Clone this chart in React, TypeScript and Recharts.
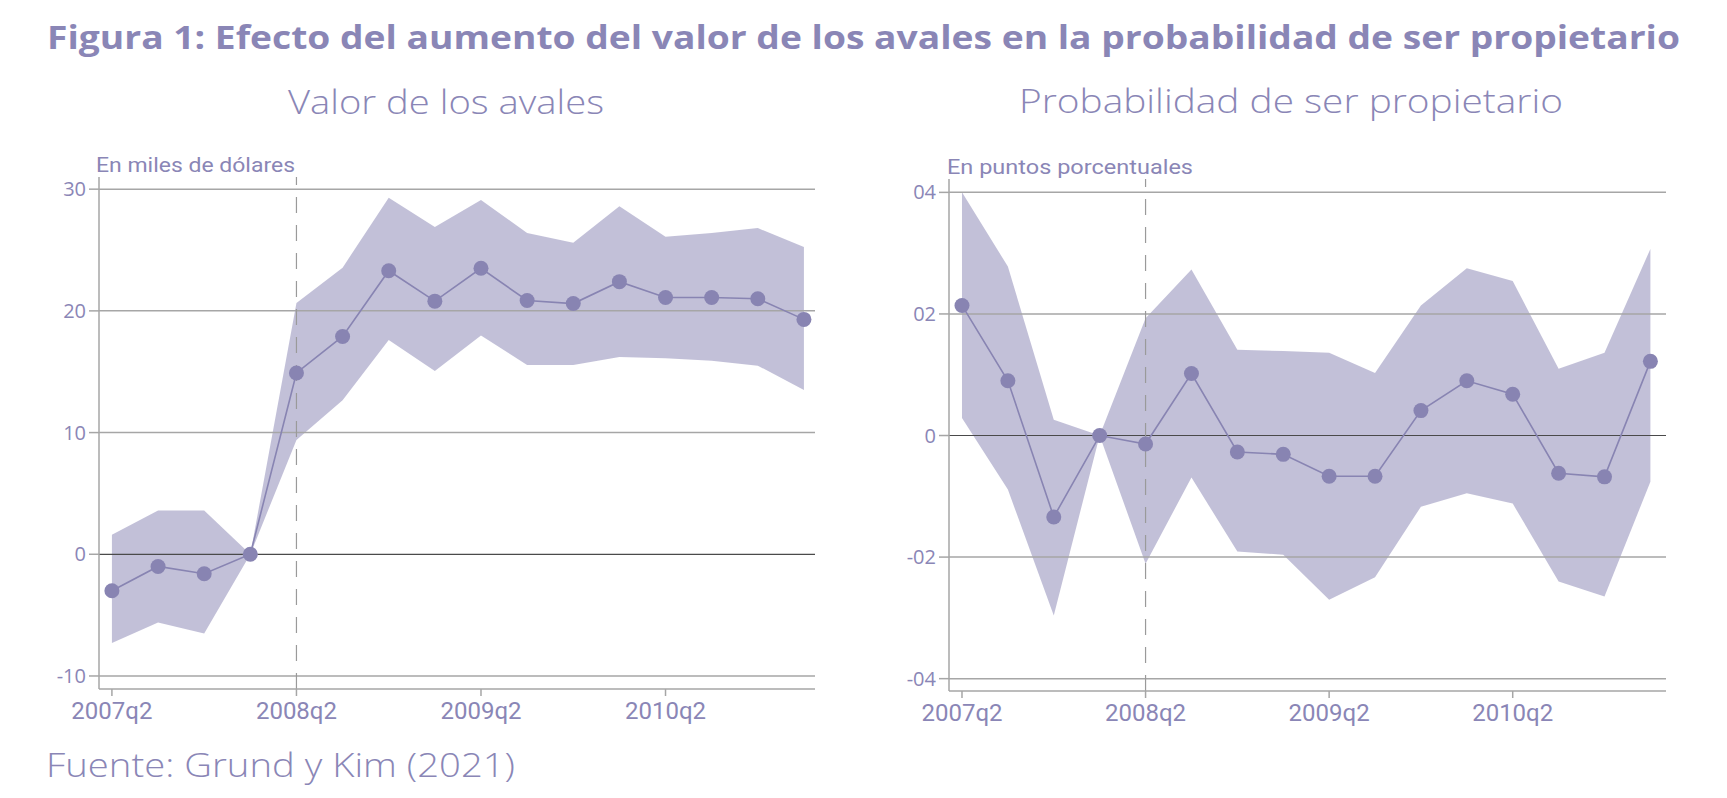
import React from "react";
import {
  ComposedChart,
  Area,
  Line,
  XAxis,
  YAxis,
  ReferenceLine
} from "recharts";

// trimestres, de 2007q2 a 2011q1
const quarters = [
  "2007q2", "2007q3", "2007q4", "2008q1",
  "2008q2", "2008q3", "2008q4", "2009q1",
  "2009q2", "2009q3", "2009q4", "2010q1",
  "2010q2", "2010q3", "2010q4", "2011q1"
];
const labelledQuarters = [0, 4, 8, 12];

// Valor de los avales (miles de dólares)
const avalesPunto = [-3.0, -1.0, -1.6, 0, 14.9, 17.9, 23.3, 20.8, 23.5, 20.85, 20.6, 22.4, 21.1, 21.1, 21.0, 19.3];
const avalesSup = [1.6, 3.6, 3.6, 0, 20.65, 23.55, 29.3, 26.9, 29.1, 26.4, 25.6, 28.6, 26.1, 26.4, 26.8, 25.25];
const avalesInf = [-7.3, -5.6, -6.5, 0, 9.4, 12.65, 17.6, 15.06, 17.97, 15.55, 15.55, 16.2, 16.1, 15.9, 15.5, 13.5];
const avalesTicks = [-10, 0, 10, 20, 30];

// Probabilidad de ser propietario (puntos porcentuales)
const probPunto = [0.0214, 0.009, -0.0134, 0, -0.0014, 0.0102, -0.0027, -0.0031, -0.0067, -0.0067, 0.0041, 0.009, 0.0068, -0.0062, -0.0068, 0.0122];
const probSup = [0.04, 0.0278, 0.0026, 0, 0.0193, 0.0273, 0.0141, 0.0139, 0.0136, 0.0103, 0.0214, 0.0275, 0.0254, 0.011, 0.0136, 0.0307];
const probInf = [0.0029, -0.0089, -0.0296, 0, -0.0211, -0.0069, -0.0191, -0.0196, -0.027, -0.0233, -0.0117, -0.0095, -0.0112, -0.024, -0.0265, -0.0076];
const probTicks = [-0.04, -0.02, 0, 0.02, 0.04];

const LINE = "#8884b2";
const BAND = "#8b87b5";
const TEXT = "#8a86b6";
const GRID = "#a6a6a6";

const buildRows = (pt: number[], lo: number[], hi: number[]) =>
  quarters.map((q, i) => ({ i, q, punto: pt[i], banda: [lo[i], hi[i]] }));

// "04", "02", "0", "-02" como en el original
const fmtProb = (v: number) =>
  v === 0 ? "0" : (v < 0 ? "-" : "") + Math.abs(v).toFixed(2).slice(2);

function Panel(props: any) {
  const { data, left, width, margin, yWidth, xDomain, yDomain, yTicks, yFmt } = props;
  return (
    <div style={{ position: "absolute", left, top: 0 }}>
      <ComposedChart width={width} height={798} data={data} margin={margin}>
        {/* líneas de cuadrícula solo en los ticks, sin borde superior */}
        {yTicks.filter((t: number) => t !== 0).map((t: number) => (
          <ReferenceLine key={t} y={t} stroke={GRID} strokeWidth={1.5} />
        ))}
        <ReferenceLine y={0} stroke="#4a4a4a" strokeWidth={1.2} />
        <ReferenceLine x={4} stroke="#9a9a9a" strokeWidth={1.2} strokeDasharray="16 12" />
        <XAxis
          type="number"
          dataKey="i"
          domain={xDomain}
          allowDataOverflow
          ticks={labelledQuarters}
          tickFormatter={(v: number) => quarters[v]}
          height={40}
          tickSize={7}
          tickMargin={6}
          stroke={GRID}
          strokeWidth={1.5}
          tick={{ fill: TEXT, fontSize: 24, fontFamily: "Roboto" }}
        />
        <YAxis
          type="number"
          domain={yDomain}
          allowDataOverflow
          ticks={yTicks}
          tickFormatter={yFmt}
          width={yWidth}
          tickSize={10}
          tickMargin={3}
          stroke={GRID}
          strokeWidth={1.5}
          tick={{ fill: TEXT, fontSize: 20, fontFamily: "Open Sans" }}
        />
        <Area
          type="linear"
          dataKey="banda"
          stroke="none"
          fill={BAND}
          fillOpacity={0.52}
          isAnimationActive={false}
        />
        <Line
          type="linear"
          dataKey="punto"
          stroke={LINE}
          strokeWidth={1.6}
          dot={{ r: 7.5, fill: LINE, stroke: "none" }}
          activeDot={false}
          isAnimationActive={false}
        />
      </ComposedChart>
    </div>
  );
}

function Txt(props: any) {
  const { x, y, len, size, weight = 400, family = "Open Sans", children } = props;
  return (
    <text
      x={x}
      y={y}
      textLength={len}
      lengthAdjust="spacingAndGlyphs"
      fontSize={size}
      fontWeight={weight}
      fontFamily={family}
      fill={TEXT}
    >
      {children}
    </text>
  );
}

export default function App() {
  return (
    <div style={{ position: "absolute", left: 0, top: 0, width: 1727, height: 798, background: "#fff" }}>
      <Panel
        data={buildRows(avalesPunto, avalesInf, avalesSup)}
        left={0}
        width={860}
        margin={{ top: 177, right: 45, bottom: 69, left: 0 }}
        yWidth={99}
        xDomain={[-0.28, 15.24]}
        yDomain={[-11.07, 31.0]}
        yTicks={avalesTicks}
        yFmt={(v: number) => String(v)}
      />
      <Panel
        data={buildRows(probPunto, probInf, probSup)}
        left={860}
        width={867}
        margin={{ top: 179, right: 61, bottom: 67, left: 0 }}
        yWidth={89}
        xDomain={[-0.283, 15.34]}
        yDomain={[-0.04203, 0.0422]}
        yTicks={probTicks}
        yFmt={fmtProb}
      />
      <svg width={1727} height={798} style={{ position: "absolute", left: 0, top: 0, pointerEvents: "none" }}>
        <Txt x={47} y={49} len={1633} size={32} weight={700}>
          Figura 1: Efecto del aumento del valor de los avales en la probabilidad de ser propietario
        </Txt>
        <Txt x={288} y={114} len={316} size={33} weight={300}>Valor de los avales</Txt>
        <Txt x={1019} y={113} len={544} size={33} weight={300}>Probabilidad de ser propietario</Txt>
        <Txt x={96} y={172} len={199} size={21} family="Roboto">En miles de dólares</Txt>
        <Txt x={947} y={174} len={246} size={21} family="Roboto">En puntos porcentuales</Txt>
        <Txt x={46} y={777} len={469} size={33} weight={300}>Fuente: Grund y Kim (2021)</Txt>
      </svg>
    </div>
  );
}
